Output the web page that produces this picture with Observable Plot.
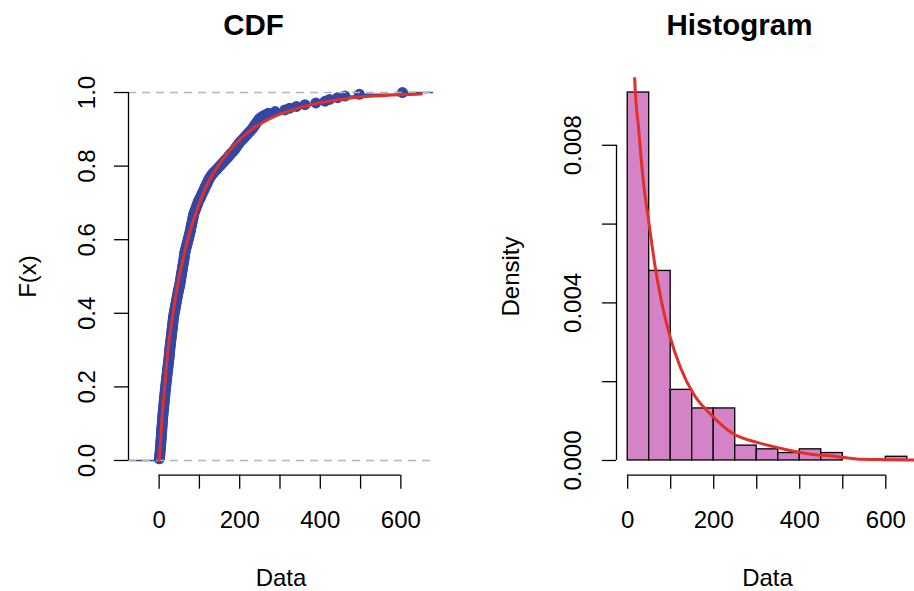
<!DOCTYPE html>
<html><head><meta charset="utf-8">
<script src="https://cdn.jsdelivr.net/npm/d3@7"></script>
<script src="https://cdn.jsdelivr.net/npm/@observablehq/plot@0.6"></script>
<style>
html,body{margin:0;padding:0;background:#fff;overflow:hidden;}
#wrap{position:relative;width:914px;height:591px;overflow:hidden;background:#fff;}
#left{position:absolute;left:0;top:0;width:457px;height:591px;}
#right{position:absolute;left:457px;top:0;width:461px;height:591px;}
svg{max-width:none !important;}
</style></head><body><div id="wrap"><div id="left"></div><div id="right"></div></div>
<script>
// ---- data ----
const sample = [
  0.5, 1.1, 1.6, 2.0, 2.4, 3.0,
  3.3, 3.6, 3.9, 4.1, 4.5, 4.8, 5.1, 5.5, 5.8, 6.1, 6.4, 6.7, 7.0, 7.4, 7.7, 8.0, 8.3, 8.6, 9.0,
  9.4, 9.8, 10.2, 10.6, 11.0, 11.4, 11.8, 12.4, 12.6, 13.0,
  13.4, 13.9, 14.3, 14.8, 15.2, 15.7, 16.1, 16.6, 17.0,
  17.5, 18.0, 18.5, 19.0, 19.5, 20.0, 20.5, 20.8, 21.5, 22.0, 22.5, 23.0, 23.5, 24.0, 24.5, 25.0, 25.3, 25.7, 26.0,
  26.5, 27.0, 27.5, 28.0, 28.5, 29.0, 29.5, 30.0, 30.7, 31.0, 31.5, 32.0, 32.5, 33.0, 33.5, 34.0, 34.5, 35.0, 35.5, 36.0,
  36.8, 37.6, 38.4, 39.2, 40.0, 40.8, 41.3, 42.4, 43.2, 44.0, 44.8, 45.6, 46.4, 47.2, 48.0, 48.9,
  50.4, 51.1, 51.8, 52.5, 53.2, 53.9, 54.6, 55.3, 56.0, 56.7, 57.4, 58.1, 58.8, 59.5, 60.2, 60.9, 61.6, 62.3, 62.7, 63.1,
  64.1, 65.2, 66.3, 67.4, 68.5, 69.6, 70.7, 71.8, 72.9, 74.0, 75.1, 76.2, 77.1, 78.0,
  78.9, 79.8, 80.7, 81.6, 82.5, 83.3, 84.2, 85.1, 86.0,
  87.6, 89.2, 90.8, 92.4, 94.0, 95.6, 97.2, 98.8,
  101.5, 103.5, 105.5, 107.5, 109.5, 111.5, 113.5, 115.5, 117.5, 119.5, 121.5, 123.5, 126, 129, 132, 136, 140, 144, 148,
  152, 156, 160, 164, 168, 172, 175, 179, 183, 187, 190, 193, 196, 199,
  203, 207, 211, 215, 219, 223, 227, 231, 234, 237, 240, 243, 246, 249,
  255, 262, 271, 288, 312, 324, 341, 362, 389, 412, 423, 443, 461, 497, 604
];
const binEdges = [0, 50, 100, 150, 200, 250, 300, 350, 400, 450, 500, 550, 600, 650];

// fitted CDF curve (red, left panel)
const cdfFitX = [0, 2, 7, 14, 22, 34, 46, 60, 75, 90, 110, 130, 160, 190, 230, 280, 330, 400, 480, 560, 651];
const cdfFitF = [0, 0.03, 0.11, 0.205, 0.3, 0.395, 0.478, 0.55, 0.617, 0.668, 0.728, 0.772, 0.822, 0.861, 0.9, 0.932, 0.953, 0.972, 0.986, 0.992, 0.996];

// fitted density curve (red, right panel)
const densFitX = [14, 16.3, 25.6, 35.8, 49, 64.4, 80, 99.3, 122.6, 153.5, 192, 246.5, 301, 362.8, 440, 470, 500, 545, 600, 665];
const densFitD = [0.0104, 0.00968, 0.0084, 0.00715, 0.00606, 0.00488, 0.00396, 0.00311, 0.00236, 0.00168, 0.00118, 0.00067, 0.00046, 0.00029, 0.00014, 0.00012, 0.00008, 0.00003, 0.00002, 0.00001];

const titles = ["CDF", "Histogram"];
const xTitle = "Data";
const yTitles = ["F(x)", "Density"];

const xTicks = [0, 100, 200, 300, 400, 500, 600];
const xTickLabels = ["0", "", "200", "", "400", "", "600"];
const cdfYTicks = [0, 0.2, 0.4, 0.6, 0.8, 1.0];
const cdfYTickLabels = ["0.0", "0.2", "0.4", "0.6", "0.8", "1.0"];
const histYTicks = [0, 0.002, 0.004, 0.006, 0.008];
const histYTickLabels = ["0.000", "", "0.004", "", "0.008"];

// ---- styles ----
const BLUE = "#3347a6", RED = "#e0302a", PINK = "#d383c6", GREY = "#b3b3b3";
const FONT = "'Liberation Sans', Arial, Helvetica, sans-serif";
const style = {fontFamily: FONT, fontSize: "24px", color: "black", background: "white", overflow: "visible", maxWidth: "none"};

// ---- left: ECDF ----
const n = sample.length;
const sorted = sample.slice().sort((a, b) => a - b);
const ecdf = sorted.map((x, i) => ({x, F: (i + 1) / n}));
const cdfXDomain = [-76, 681];
const steps = [{x1: cdfXDomain[0], x2: sorted[0], y: 0}]
  .concat(sorted.map((x, i) => ({x1: x, x2: i + 1 < n ? sorted[i + 1] : cdfXDomain[1], y: (i + 1) / n})));
const cdfFit = cdfFitX.map((x, i) => ({x, F: cdfFitF[i]}));

const left = Plot.plot({
  width: 457, height: 591,
  marginLeft: 128, marginRight: 24, marginTop: 77.3, marginBottom: 116.3,
  style,
  x: {domain: cdfXDomain},
  y: {domain: [-0.04, 1.04]},
  marks: [
    Plot.ruleY(steps, {y: "y", x1: "x1", x2: "x2", stroke: BLUE, strokeWidth: 1.5, clip: true}),
    Plot.dot(ecdf, {x: "x", y: "F", r: 5.5, fill: BLUE, stroke: "none"}),
    Plot.ruleY([0, 1], {stroke: GREY, strokeWidth: 1.3, strokeDasharray: "8,6"}),
    Plot.line(cdfFit, {x: "x", y: "F", stroke: RED, strokeWidth: 3, curve: "monotone-x"}),
    // axes
    Plot.ruleX([cdfXDomain[0]], {y1: cdfYTicks[0], y2: cdfYTicks[cdfYTicks.length - 1], strokeWidth: 1.3}),
    Plot.ruleY([-0.04], {x1: xTicks[0], x2: xTicks[xTicks.length - 1], strokeWidth: 1.3}),
    Plot.axisX({ticks: xTicks, tickSize: 14, tickFormat: () => "", label: null, strokeWidth: 1.3}),
    Plot.axisY({ticks: cdfYTicks, tickSize: 14, tickFormat: () => "", label: null, strokeWidth: 1.3}),
    Plot.text(xTicks, {x: d => d, text: (d, i) => xTickLabels[i], frameAnchor: "bottom", dy: 45.3, lineAnchor: "middle", fontSize: 24}),
    Plot.text(cdfYTicks, {y: d => d, text: (d, i) => cdfYTickLabels[i], frameAnchor: "left", dx: -41.3, rotate: -90, textAnchor: "middle", lineAnchor: "middle", fontSize: 24}),
    Plot.text([xTitle], {frameAnchor: "bottom", dy: 103.3, lineAnchor: "middle", fontSize: 24}),
    Plot.text([yTitles[0]], {frameAnchor: "left", dx: -100, rotate: -90, textAnchor: "middle", lineAnchor: "middle", fontSize: 24}),
    Plot.text([titles[0]], {frameAnchor: "top", dx: -27.5, dy: -52.6, lineAnchor: "middle", fontSize: 29.5, fontWeight: "bold"})
  ]
});
document.getElementById("left").appendChild(left);

// ---- right: histogram ----
const bins = d3.bin().domain([binEdges[0], binEdges[binEdges.length - 1]]).thresholds(binEdges)(sample)
  .map(b => ({x0: b.x0, x1: b.x1, y0: 0, density: b.length / (n * (b.x1 - b.x0))}));
const ymax = d3.max(bins, b => b.density);
const histXDomain = [-26, 676];
const densFit = densFitX.map((x, i) => ({x, d: densFitD[i]}));

const right = Plot.plot({
  width: 461, height: 591,
  marginLeft: 159, marginRight: 0, marginTop: 77.3, marginBottom: 116.3,
  style,
  x: {domain: histXDomain},
  y: {domain: [-0.04 * ymax, 1.04 * ymax]},
  marks: [
    Plot.rect(bins, {x1: "x0", x2: "x1", y1: "y0", y2: "density", fill: PINK, stroke: "black", strokeWidth: 1.3, clip: true}),
    Plot.line(densFit, {x: "x", y: "d", stroke: RED, strokeWidth: 3, curve: "monotone-x", clip: true}),
    Plot.ruleX([histXDomain[0]], {y1: histYTicks[0], y2: histYTicks[histYTicks.length - 1], strokeWidth: 1.3}),
    Plot.ruleY([-0.04 * ymax], {x1: xTicks[0], x2: xTicks[xTicks.length - 1], strokeWidth: 1.3}),
    Plot.axisX({ticks: xTicks, tickSize: 14, tickFormat: () => "", label: null, strokeWidth: 1.3}),
    Plot.axisY({ticks: histYTicks, tickSize: 14, tickFormat: () => "", label: null, strokeWidth: 1.3}),
    Plot.text(xTicks, {x: d => d, text: (d, i) => xTickLabels[i], frameAnchor: "bottom", dy: 45.3, lineAnchor: "middle", fontSize: 24}),
    Plot.text(histYTicks, {y: d => d, text: (d, i) => histYTickLabels[i], frameAnchor: "left", dx: -43, rotate: -90, textAnchor: "middle", lineAnchor: "middle", fontSize: 24}),
    Plot.text([xTitle], {frameAnchor: "bottom", dy: 103.3, lineAnchor: "middle", fontSize: 24}),
    Plot.text([yTitles[1]], {frameAnchor: "left", dx: -105, rotate: -90, textAnchor: "middle", lineAnchor: "middle", fontSize: 24}),
    Plot.text([titles[1]], {frameAnchor: "top", dx: -28, dy: -52.6, lineAnchor: "middle", fontSize: 29.5, fontWeight: "bold"})
  ]
});
document.getElementById("right").appendChild(right);
</script>
</body></html>
